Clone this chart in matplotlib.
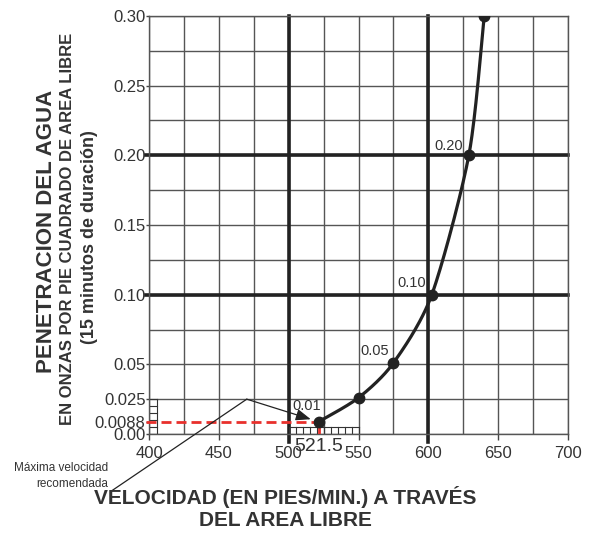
# -*- coding: utf-8 -*-

# Penetracion del agua vs velocidad a traves del area libre

import numpy as np
import matplotlib
matplotlib.use('Agg')
import matplotlib.pyplot as plt

## datos ##

velocidad = [521.5, 550, 575, 602.5, 629, 640]
penetracion = [0.0088, 0.026, 0.051, 0.10, 0.20, 0.30]
etiquetas_puntos = ['0.01', '', '0.05', '0.10', '0.20', '']

vel_recomendada = 521.5
pen_recomendada = 0.0088

xticks = [400, 450, 500, 521.5, 550, 600, 650, 700]
xtick_labels = ['400', '450', '500', '521.5', '550', '600', '650', '700']
yticks = [0.00, 0.0088, 0.025, 0.05, 0.10, 0.15, 0.20, 0.25, 0.30]
ytick_labels = ['0.00', '0.0088', '0.025', '0.05', '0.10', '0.15', '0.20', '0.25', '0.30']

FUENTE = ['Liberation Sans', 'DejaVu Sans']


def curva_suave(xs, ys, sx, sy, tension=0.4, n=40):
    'Spline cardinal que pasa por los puntos (sx, sy normalizan las escalas)'
    p = np.column_stack([np.array(xs) / sx, np.array(ys) / sy])
    p = np.vstack([p[0], p, p[-1]])
    out = []
    for i in range(1, len(p) - 2):
        p0, p1, p2, p3 = p[i - 1], p[i], p[i + 1], p[i + 2]
        m1 = tension * (p2 - p0)
        m2 = tension * (p3 - p1)
        t = np.linspace(0, 1, n)[:, None]
        h00 = 2 * t ** 3 - 3 * t ** 2 + 1
        h10 = t ** 3 - 2 * t ** 2 + t
        h01 = -2 * t ** 3 + 3 * t ** 2
        h11 = t ** 3 - t ** 2
        out.append(h00 * p1 + h10 * m1 + h01 * p2 + h11 * m2)
    c = np.vstack(out)
    return c[:, 0] * sx, c[:, 1] * sy


fig = plt.figure(figsize=(5.92, 5.4), dpi=100)
ax = fig.add_axes([149 / 592, 1 - 434 / 540, 419 / 592, 418 / 540])
ax.set_xlim(400, 700)
ax.set_ylim(0, 0.30)

# cuadricula
for xv in np.arange(400, 701, 25):
    ax.axvline(xv, color='#555555', lw=1.0, zorder=1)
for yv in np.arange(0, 0.301, 0.025):
    ax.axhline(yv, color='#555555', lw=1.0, zorder=1)
for xv in [500, 600]:
    ax.axvline(xv, ymin=-0.018, color='#222222', lw=2.6, zorder=2, clip_on=False)
for yv in [0.10, 0.20]:
    ax.axhline(yv, xmin=-0.006, color='#222222', lw=2.6, zorder=2, clip_on=False)

# reglitas
for yv in np.arange(0, 0.0251, 0.005):
    ax.plot([400, 406], [yv, yv], color='#333333', lw=0.8, zorder=2)
ax.plot([406, 406], [0, 0.025], color='#333333', lw=0.8, zorder=2)
for xv in np.arange(500, 551, 5):
    ax.plot([xv, xv], [0, 0.005], color='#333333', lw=0.8, zorder=2)
ax.plot([500, 550], [0.005, 0.005], color='#333333', lw=0.8, zorder=2)

# linea roja de velocidad recomendada
ax.plot([398, vel_recomendada], [pen_recomendada, pen_recomendada],
        color='#e8302c', lw=2.0, dashes=(3.6, 1.8), zorder=3, clip_on=False)
ax.plot([vel_recomendada, vel_recomendada], [0, pen_recomendada],
        color='#e8302c', lw=2.0, dashes=(3.6, 1.8), zorder=3)

# curva
cx, cy = curva_suave(velocidad, penetracion, 300, 0.3)
ax.plot(cx, cy, color='#222222', lw=2.3, zorder=4, solid_capstyle='round')
ax.plot(velocidad, penetracion, 'o', color='#222222', ms=7.5, zorder=5)

offs = {'0.01': (2, 9), '0.05': (-4, 5), '0.10': (-6, 5), '0.20': (-6, 2)}
for v, p, lab in zip(velocidad, penetracion, etiquetas_puntos):
    if lab:
        ax.annotate(lab, (v, p), xytext=offs[lab], textcoords='offset pixels',
                    ha='right', va='bottom', fontsize=10.5, color='#333333',
                    family=FUENTE)

# flecha y texto
ax.annotate('', xy=(vel_recomendada, pen_recomendada), xytext=(470, 0.025),
            arrowprops=dict(arrowstyle='-|>,head_length=0.9,head_width=0.35',
                            color='#222222', lw=0.9, shrinkA=0, shrinkB=6),
            zorder=6)
ax.annotate('Máxima velocidad\nrecomendada', xy=(470, 0.025),
            xytext=(108, 50), textcoords='figure pixels', ha='right', va='bottom',
            fontsize=8.5, color='#333333', family=FUENTE, linespacing=1.45,
            arrowprops=dict(arrowstyle='-', color='#222222', lw=0.9,
                            shrinkA=0, shrinkB=0, relpos=(1.03, -0.05)))

# ejes
ax.set_xticks(xticks)
ax.set_xticklabels(xtick_labels)
ax.set_yticks(yticks)
ax.set_yticklabels(ytick_labels)
ax.tick_params(axis='x', length=4, width=1, color='#444444', pad=4.5,
               labelsize=12, labelcolor='#333333')
ax.tick_params(axis='y', length=2, width=1, color='#444444', pad=0.5,
               labelsize=12, labelcolor='#333333')
for lab in ax.get_xticklabels() + ax.get_yticklabels():
    lab.set_family(FUENTE)
for t, loc in zip(ax.xaxis.get_major_ticks(), xticks):
    if loc == vel_recomendada:
        t.label1.set_fontsize(14)
        t.tick1line.set_visible(False)
        t.set_pad(-1)
for s in ax.spines.values():
    s.set_color('#555555')
    s.set_linewidth(1.0)

# titulos
fig.text(285 / 592, 1 - 497 / 540, 'VELOCIDAD (EN PIES/MIN.) A TRAVÉS',
         ha='center', va='center', fontsize=15, fontweight='bold',
         color='#333333', family=FUENTE)
fig.text(285 / 592, 1 - 520 / 540, 'DEL AREA LIBRE',
         ha='center', va='center', fontsize=15, fontweight='bold',
         color='#333333', family=FUENTE)
fig.text(47 / 592, 1 - 231 / 540, 'PENETRACION DEL AGUA', rotation=90,
         ha='center', va='center', fontsize=16, fontweight='bold',
         color='#333333', family=FUENTE)
fig.text(68 / 592, 1 - 229 / 540, 'EN ONZAS POR PIE CUADRADO DE AREA LIBRE',
         rotation=90, ha='center', va='center', fontsize=12, fontweight='bold',
         color='#333333', family=FUENTE)
fig.text(89 / 592, 1 - 237 / 540, '(15 minutos de duración)', rotation=90,
         ha='center', va='center', fontsize=13, fontweight='bold',
         color='#333333', family=FUENTE)

fig.savefig('out.png', dpi=100)
